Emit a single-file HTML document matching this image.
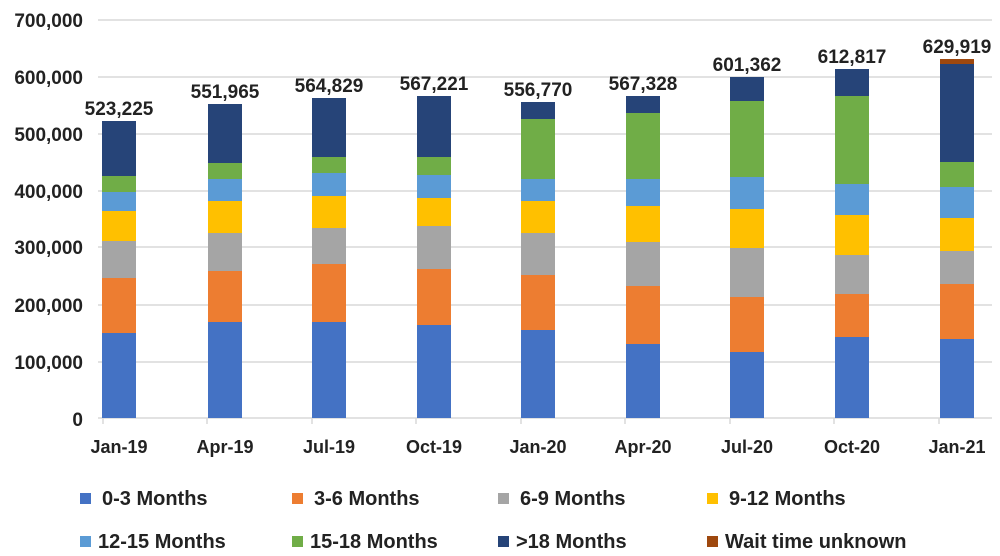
<!DOCTYPE html>
<html><head><style>
html,body{margin:0;background:#fff;overflow:hidden}
svg{display:block}
svg text{font-family:"Liberation Sans",Arial,sans-serif;font-weight:bold;fill:#222}
</style></head><body>
<svg width="1000" height="556" viewBox="0 0 1000 556" xmlns="http://www.w3.org/2000/svg">
<g stroke="#d9d9d9" stroke-width="1.5">
<line x1="98" x2="992" y1="20" y2="20"/><line x1="98" x2="992" y1="77" y2="77"/>
<line x1="98" x2="992" y1="134" y2="134"/><line x1="98" x2="992" y1="191" y2="191"/>
<line x1="98" x2="992" y1="247" y2="247"/><line x1="98" x2="992" y1="305" y2="305"/>
<line x1="98" x2="992" y1="362" y2="362"/><line x1="98" x2="992" y1="418" y2="418"/>
<line x1="103" x2="103" y1="418" y2="424"/><line x1="207" x2="207" y1="418" y2="424"/>
<line x1="312" x2="312" y1="418" y2="424"/><line x1="416" x2="416" y1="418" y2="424"/>
<line x1="521" x2="521" y1="418" y2="424"/><line x1="625" x2="625" y1="418" y2="424"/>
<line x1="730" x2="730" y1="418" y2="424"/><line x1="834" x2="834" y1="418" y2="424"/>
<line x1="939" x2="939" y1="418" y2="424"/>
</g>
<g font-size="19" text-anchor="end">
<text x="83" y="27">700,000</text><text x="83" y="84">600,000</text><text x="83" y="141">500,000</text>
<text x="83" y="198">400,000</text><text x="83" y="254">300,000</text><text x="83" y="312">200,000</text>
<text x="83" y="369">100,000</text><text x="83" y="426">0</text>
</g>
<g id="bars"></g>
<g font-size="19" text-anchor="middle" id="tot"></g>
<g font-size="18" text-anchor="middle">
<text x="119" y="453">Jan-19</text><text x="225" y="453">Apr-19</text><text x="329" y="453">Jul-19</text>
<text x="434" y="453">Oct-19</text><text x="538" y="453">Jan-20</text><text x="643" y="453">Apr-20</text>
<text x="747" y="453">Jul-20</text><text x="852" y="453">Oct-20</text><text x="957" y="453">Jan-21</text>
</g>
<g font-size="20">
<rect x="80" y="493" width="11" height="11" fill="#4472c4"/><text x="102" y="505">0-3 Months</text>
<rect x="292" y="493" width="11" height="11" fill="#ed7d31"/><text x="314" y="505">3-6 Months</text>
<rect x="498" y="493" width="11" height="11" fill="#a5a5a5"/><text x="520" y="505">6-9 Months</text>
<rect x="707" y="493" width="11" height="11" fill="#ffc000"/><text x="729" y="505">9-12 Months</text>
<rect x="80" y="536" width="11" height="11" fill="#5b9bd5"/><text x="98" y="548">12-15 Months</text>
<rect x="292" y="536" width="11" height="11" fill="#70ad47"/><text x="310" y="548">15-18 Months</text>
<rect x="498" y="536" width="11" height="11" fill="#264478"/><text x="516" y="548">&gt;18 Months</text>
<rect x="707" y="536" width="11" height="11" fill="#9e480e"/><text x="725" y="548">Wait time unknown</text>
</g>
</svg>
<script>
var cols=["#4472c4","#ed7d31","#a5a5a5","#ffc000","#5b9bd5","#70ad47","#264478","#9e480e"];
var d=[[102,[333,278,241,211,192,176,121]],[208,[322,271,233,201,179,163,104]],[312,[322,264,228,196,173,157,98]],
[417,[325,269,226,198,175,157,96]],[521,[330,275,233,201,179,119,102]],[626,[344,286,242,206,179,113,96]],
[730,[352,297,248,209,177,101,77]],[835,[337,294,255,215,184,96,69]],[940,[339,284,251,218,187,162,64,59]]];
var lab=["523,225","551,965","564,829","567,221","556,770","567,328","601,362","612,817","629,919"];
var ns="http://www.w3.org/2000/svg",g=document.getElementById("bars"),t=document.getElementById("tot");
d.forEach(function(b,i){var prev=418;b[1].forEach(function(y,j){var r=document.createElementNS(ns,"rect");
r.setAttribute("x",b[0]);r.setAttribute("y",y);r.setAttribute("width",34);r.setAttribute("height",prev-y);
r.setAttribute("fill",cols[j]);g.appendChild(r);prev=y;});
var tx=document.createElementNS(ns,"text");tx.setAttribute("x",b[0]+17);tx.setAttribute("y",prev-6);
tx.textContent=lab[i];t.appendChild(tx);});
</script>
</body></html>
